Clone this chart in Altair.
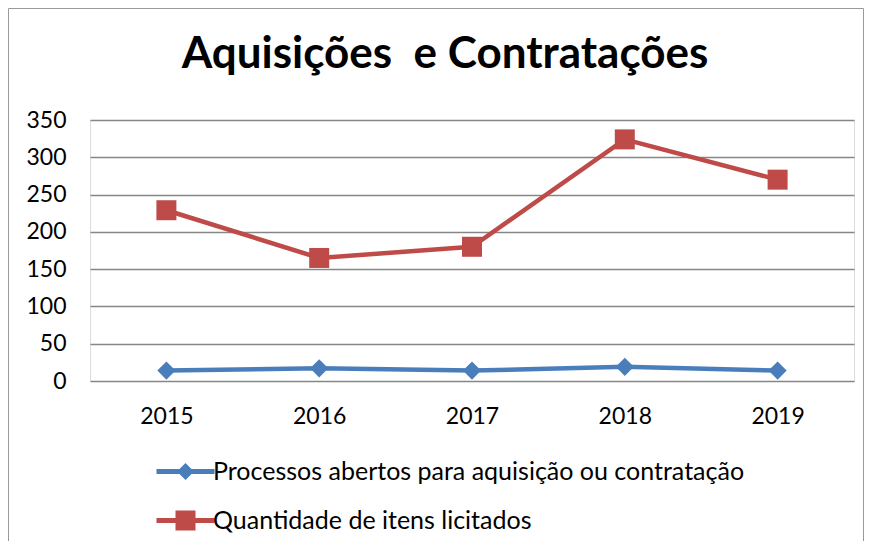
import altair as alt
import pandas as pd

# ---- data ----
years = ["2015", "2016", "2017", "2018", "2019"]
processos = [14, 17, 14, 19, 14]
itens = [229, 165, 180, 324, 270]
series_names = [
    "Processos abertos para aquisição ou contratação",
    "Quantidade de itens licitados",
]
series_colors = ["#4A7EBB", "#BE4B48"]
marker_shapes = ["diamond", "square"]
marker_sizes = [330, 400]
y_ticks = [0, 50, 100, 150, 200, 250, 300, 350]
title_text = "Aquisições\u00a0 e Contratações"

# legend symbols: line segment + marker (unit-space SVG paths)
legend_paths = [
    "M-2.9,-0.24H2.9V0.24H-2.9Z M0,-0.85L0.85,0L0,0.85L-0.85,0Z",
    "M-2.9,-0.24H2.9V0.24H-2.9Z M-1,-1H1V1H-1Z",
]

rows = []
for name, vals in zip(series_names, [processos, itens]):
    for yr, v in zip(years, vals):
        rows.append({"ano": yr, "valor": v, "serie": name})
df = pd.DataFrame(rows)

FONT = "Lato"

color_scale = alt.Scale(domain=series_names, range=series_colors)

x_enc = alt.X(
    "ano:O",
    axis=alt.Axis(
        title=None, labelAngle=0, domain=False, ticks=False,
        labelFont=FONT, labelFontSize=23, labelColor="black", labelPadding=24,
    ),
)
y_enc = alt.Y(
    "valor:Q",
    scale=alt.Scale(domain=[0, 350], nice=False),
    axis=alt.Axis(
        title=None, values=y_ticks, domain=False, ticks=False,
        grid=True, gridColor="#868686", gridWidth=1.3,
        labelFont=FONT, labelFontSize=23, labelColor="black", labelPadding=24,
    ),
)

base = alt.Chart(df)

lines = base.mark_line(strokeWidth=4.5).encode(
    x=x_enc, y=y_enc,
    color=alt.Color("serie:N", scale=color_scale, legend=None),
)

points = base.mark_point(filled=True, opacity=1).encode(
    x=x_enc, y=y_enc,
    color=alt.Color("serie:N", scale=color_scale, legend=None),
    shape=alt.Shape("serie:N", scale=alt.Scale(domain=series_names, range=marker_shapes), legend=None),
    size=alt.Size("serie:N", scale=alt.Scale(domain=series_names, range=marker_sizes), legend=None),
)

legend_props = dict(
    orient="none", legendX=83, legendY=339, direction="vertical", title=None,
    labelFont=FONT, labelFontSize=25, labelColor="black", labelLimit=1000,
    labelOffset=15, symbolSize=400, symbolStrokeWidth=0, rowPadding=23,
)

legend_layer = base.transform_filter("false").mark_point(filled=True, opacity=1, size=400).encode(
    x=x_enc, y=y_enc,
    color=alt.Color("serie:N", scale=color_scale, legend=alt.Legend(**legend_props)),
    shape=alt.Shape("serie:N", scale=alt.Scale(domain=series_names, range=legend_paths),
                    legend=alt.Legend(**legend_props)),
)

frame_data = alt.Data(values=[{"k": 1}])
frame_color = "#9a9a9a"
frame_left = alt.Chart(frame_data).mark_rule(color=frame_color, strokeWidth=1).encode(
    x=alt.value(-81.5), x2=alt.value(-81.5), y=alt.value(-111.5), y2=alt.value(421))
frame_top = alt.Chart(frame_data).mark_rule(color=frame_color, strokeWidth=1).encode(
    x=alt.value(-81.5), x2=alt.value(773.5), y=alt.value(-111.5), y2=alt.value(-111.5))
frame_right = alt.Chart(frame_data).mark_rule(color=frame_color, strokeWidth=1).encode(
    x=alt.value(773.5), x2=alt.value(773.5), y=alt.value(-111.5), y2=alt.value(421))

chart = alt.layer(
    frame_left, frame_top, frame_right, lines, points, legend_layer
).resolve_scale(
    color="independent", shape="independent"
).properties(
    width=764, height=261, padding=0,
    title=alt.Title(
        title_text, font=FONT, fontSize=44, fontWeight="bold", color="black",
        anchor="middle", frame="bounds", offset=0, baseline="alphabetic", dy=104, dx=9,
    ),
).configure_view(stroke=None).configure(background="white")

chart.save("out.html", embed_options={"renderer": "svg", "actions": False})
